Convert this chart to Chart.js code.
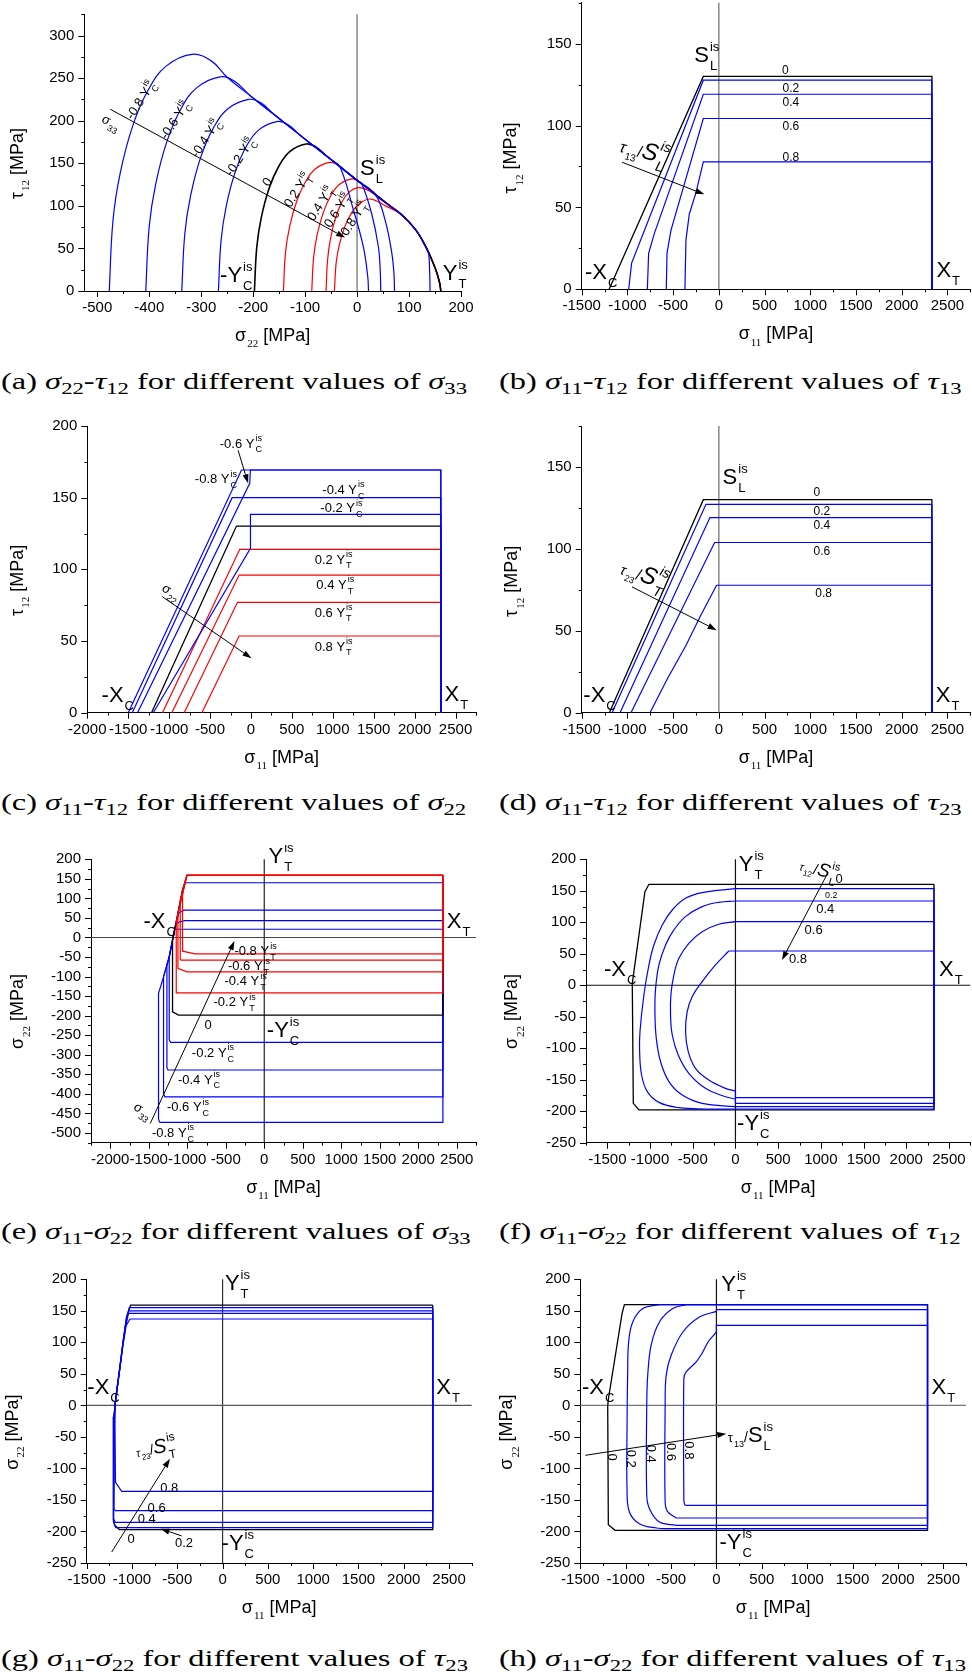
<!DOCTYPE html>
<html>
<head>
<meta charset="utf-8">
<title>Failure envelopes</title>
<script src="https://cdn.jsdelivr.net/npm/chart.js@4.4.1/dist/chart.umd.min.js"></script>
<style>
  html, body { margin:0; padding:0; background:#ffffff; }
  body { position:relative; width:972px; height:1676px; overflow:hidden; }
  canvas { position:absolute; }
  .cap { position:absolute; white-space:nowrap; font-family:'Liberation Serif','DejaVu Serif',serif; font-size:24px; line-height:1; color:#000; z-index:2; transform-origin:0 0; }
  .cap sub { font-size:70%; vertical-align:baseline; position:relative; top:0.3em; }
</style>
</head>
<body>
<div class="cap" data-l="1" data-b="389">(a) <i>σ</i><sub>22</sub>-<i>τ</i><sub>12</sub> for different values of <i>σ</i><sub>33</sub></div>
<div class="cap" data-l="499" data-b="389">(b) <i>σ</i><sub>11</sub>-<i>τ</i><sub>12</sub> for different values of <i>τ</i><sub>13</sub></div>
<div class="cap" data-l="1" data-b="810">(c) <i>σ</i><sub>11</sub>-<i>τ</i><sub>12</sub> for different values of <i>σ</i><sub>22</sub></div>
<div class="cap" data-l="499" data-b="810">(d) <i>σ</i><sub>11</sub>-<i>τ</i><sub>12</sub> for different values of <i>τ</i><sub>23</sub></div>
<div class="cap" data-l="1" data-b="1239">(e) <i>σ</i><sub>11</sub>-<i>σ</i><sub>22</sub> for different values of <i>σ</i><sub>33</sub></div>
<div class="cap" data-l="499" data-b="1239">(f) <i>σ</i><sub>11</sub>-<i>σ</i><sub>22</sub> for different values of <i>τ</i><sub>12</sub></div>
<div class="cap" data-l="1" data-b="1666">(g) <i>σ</i><sub>11</sub>-<i>σ</i><sub>22</sub> for different values of <i>τ</i><sub>23</sub></div>
<div class="cap" data-l="499" data-b="1666">(h) <i>σ</i><sub>11</sub>-<i>σ</i><sub>22</sub> for different values of <i>τ</i><sub>13</sub></div>
<script>
// ======================= DATA =======================
// ---- (a) sigma22 - tau12, curves for sigma33 ----
const A_XTICKS = [-500,-400,-300,-200,-100,0,100,200];
const A_YTICKS = [0,50,100,150,200,250,300];
const A_YC_M08 = [[-477,0],[-469.7,83.4],[-455.7,139],[-431.5,194.6],[-401.8,236.3],[-367.6,264.1],[-318,278],[-280,270],[-250,251],[-200,226.7],[-150,202.5],[-100,178.4],[-50,154.3],[-33,146],[-7,95],[12,52],[20.5,17],[22,0]];
const A_YC_M06 = [[-406.7,0],[-400.1,75.5],[-387.5,125.8],[-365.8,176],[-339.1,213.8],[-308.3,238.9],[-263.7,251.5],[-235,246],[-205,229],[-150,202.5],[-100,178.4],[-50,154.3],[0,130],[9,126],[28,91],[41,52],[44.5,25],[45.6,0]];
const A_YC_M04 = [[-337.4,0],[-331.5,67.5],[-320.2,112.5],[-300.7,157.5],[-276.7,191.3],[-249.1,213.8],[-209,225],[-185,221],[-160,207.5],[-100,178.4],[-50,154.3],[0,130],[35,113.5],[54,83],[67,44],[71,20],[72,0]];
const A_YC_M02 = [[-266.9,0],[-261.7,59.7],[-251.9,99.5],[-234.8,139.3],[-213.8,169.2],[-189.6,189],[-154.6,199],[-132,195],[-110,183],[-50,154.3],[0,130],[30,116],[60,101.5],[83,91],[100,81],[115,70],[127,58],[137,46],[139.5,25],[140.5,0]];
const A_ZERO   = [[-197.6,0],[-193,51.8],[-184.3,86.4],[-169.1,120.9],[-150.5,146.8],[-129.1,164.1],[-98,172.7],[-80,169.5],[-60,159.3],[-30,144.6],[0,130],[30,116],[60,101.5],[83,91],[100,81],[115,70],[127,58],[137,46],[145,35],[152,24],[157,14],[160,6],[161,0]];
const A_YT_P02 = [[-141.8,0],[-137.7,45.3],[-129.8,75.5],[-116.1,105.7],[-99.3,128.4],[-80,143.5],[-52,151],[-35,147.5],[-18,138.8],[0,130],[30,116],[60,101.5],[83,91],[100,81],[115,70],[127,58],[137,46],[145,35],[152,24],[157,14],[160,6],[161,0]];
const A_YT_P04 = [[-87.2,0],[-83.6,39.5],[-76.9,65.8],[-65.1,92.1],[-50.7,111.9],[-34.1,125],[-10,131.6],[5,128],[20,121],[30,116],[60,101.5],[83,91],[100,81],[115,70],[127,58],[137,46],[145,35],[152,24],[157,14],[160,6],[161,0]];
const A_YT_P06 = [[-59.7,0],[-56.8,36.4],[-51.4,60.7],[-41.9,85],[-30.3,103.2],[-16.9,115.3],[2.5,121.4],[25,117],[44,108],[60,101.5],[83,91],[100,81],[115,70],[127,58],[137,46],[145,35],[152,24],[157,14],[160,6],[161,0]];
const A_YT_P08 = [[-43.6,0],[-40.4,32.4],[-34.3,54],[-23.7,75.6],[-10.7,91.8],[4.3,102.6],[26,108],[55,100],[83,91],[100,81],[115,70],[127,58],[137,46],[145,35],[152,24],[157,14],[160,6],[161,0]];

// ---- shared tick lists ----
const X_TICKS_1500 = [-1500,-1000,-500,0,500,1000,1500,2000,2500];
const X_TICKS_2000 = [-2000,-1500,-1000,-500,0,500,1000,1500,2000,2500];
const Y_TICKS_150  = [0,50,100,150];
const Y_TICKS_200  = [0,50,100,150,200];
const Y_TICKS_500  = [-500,-450,-400,-350,-300,-250,-200,-150,-100,-50,0,50,100,150,200];
const Y_TICKS_250  = [-250,-200,-150,-100,-50,0,50,100,150,200];

// ---- (b) sigma11 - tau12, curves for tau13/SL ----
const B_T13_0  = [[-1200,0],[-170,130],[2330,130],[2330,0]];
const B_T13_02 = [[-986,0],[-954,16],[-170,127.7],[2330,127.7],[2330,0]];
const B_T13_04 = [[-782,0],[-768,22],[-706,34],[-170,119.1],[2330,119.1],[2330,0]];
const B_T13_06 = [[-575,0],[-567,22],[-524,36],[-170,104.3],[2330,104.3],[2330,0]];
const B_T13_08 = [[-371,0],[-360,30],[-323,46],[-250,59],[-170,77.8],[2330,77.8],[2330,0]];

// ---- (c) sigma11 - tau12, curves for sigma22 ----
const C_YC_M08 = [[-1500,0],[-116,169.3],[2320,169.3],[2320,0]];
const C_YC_M06 = [[-1386,0],[-15,160],[-7,169.3],[2320,169.3],[2320,0]];
const C_YC_M04 = [[-1451,0],[-230,150],[2320,150],[2320,0]];
const C_YC_M02 = [[-1194,0],[-6,114.7],[-6,138.4],[2320,138.4],[2320,0]];
const C_ZERO   = [[-1215,0],[-177,130.2],[2320,130.2],[2320,0]];
const C_YT_P02 = [[-1081,0],[-137,114],[2320,114],[2320,0]];
const C_YT_P04 = [[-967,0],[-145,96],[2320,96],[2320,0]];
const C_YT_P06 = [[-816,0],[-165,77],[2320,77],[2320,0]];
const C_YT_P08 = [[-600,0],[-145,53.5],[2320,53.5],[2320,0]];

// ---- (d) sigma11 - tau12, curves for tau23/ST ----
const D_T23_0  = [[-1198,0],[-170,130],[2330,130],[2330,0]];
const D_T23_02 = [[-1168,0],[-141,127.2],[2330,127.2],[2330,0]];
const D_T23_04 = [[-1081,0],[-97.5,119.1],[2330,119.1],[2330,0]];
const D_T23_06 = [[-961,0],[-46.4,103.9],[2330,103.9],[2330,0]];
const D_T23_08 = [[-753,0],[-560,21],[-360,41],[-196,59.6],[-24.6,77.8],[2330,77.8],[2330,0]];

// ---- (e) sigma11 - sigma22, curves for sigma33 ----
const E_YT_M08 = [[2320,159],[-1004,159],[-1030,140],[-1061,110],[-1061,-35],[-897,-42],[2320,-42],[2320,159]];
const E_YT_M06 = [[2320,159],[-1004,159],[-1040,130],[-1091,95],[-1091,-55],[-1080,-58],[2320,-58],[2320,159]];
const E_YT_M04 = [[2320,159],[-1004,159],[-1045,125],[-1090,85],[-1121,55],[-1121,-79],[-1004,-87.8],[2320,-87.8],[2320,159]];
const E_YT_M02 = [[2320,159],[-1004,159],[-1050,128],[-1100,82],[-1143,40],[-1143,-141.6],[2320,-141.6],[2320,159]];
const E_ZERO   = [[2320,159],[-1004,159],[-1061,121.4],[-1113,70.2],[-1156,27.4],[-1191,-6.6],[-1191,-190],[-1113,-198.7],[2320,-198.7],[2320,159]];
const E_YC_M02 = [[2320,140],[-1026,140],[-1040,132],[-1061,121.4],[-1113,70.2],[-1156,27.4],[-1191,-6.6],[-1234,-49.4],[-1234,-262],[-1215,-268.6],[2320,-268.6],[2320,140]];
const E_YC_M04 = [[2320,70],[-1043,70],[-1110,63],[-1156,27.4],[-1191,-6.6],[-1234,-49.4],[-1264,-70],[-1264,-333],[-1250,-339],[2320,-339],[2320,70]];
const E_YC_M06 = [[2320,43],[-1030,43],[-1100,40],[-1140,35],[-1156,27.4],[-1191,-6.6],[-1234,-49.4],[-1308,-100.6],[-1308,-400],[-1290,-408],[2320,-408],[2320,43]];
const E_YC_M08 = [[2320,21],[-1162,21],[-1191,-6.6],[-1234,-49.4],[-1308,-100.6],[-1373,-143],[-1373,-465],[-1355,-473],[2320,-473],[2320,21]];

// ---- (f) sigma11 - sigma22, curves for tau12/SL ----
const F_T12_0      = [[2325,160.3],[-1013,160.3],[-1060,148.6],[-1208,3],[-1196,-187.5],[-1130,-198],[2325,-198],[2325,160.3]];
const F_T12_02_BOX = [[0,153.4],[2325,153.4],[2325,-196.5],[0,-196.5]];
const F_T12_02_ARC = [[0,153.4],[-390,147],[-585,138],[-740,119.5],[-857,95.7],[-955,64],[-1013,32.2],[-1072,-15.5],[-1118,-73.7],[-1122,-105.5],[-1099,-142.5],[-1032,-169],[-896,-186],[-662,-194.4],[-351,-196.5],[0,-196.5]];
const F_T12_04_BOX = [[0,133.8],[2325,133.8],[2325,-192.8],[0,-192.8]];
const F_T12_04_ARC = [[0,133.8],[-195,131.7],[-390,124.8],[-585,109],[-721,87.8],[-818,64],[-896,32.2],[-935,-4.9],[-943,-42],[-927,-84.3],[-877,-121.3],[-779,-153],[-623,-174.3],[-390,-187.5],[0,-192.8]];
const F_T12_06_BOX = [[0,101],[2325,101],[2325,-187.5],[0,-187.5],[0,-180.6]];
const F_T12_06_ARC = [[0,101],[-195,96.8],[-390,85.1],[-546,66.6],[-662,42.8],[-721,16.3],[-756,-15.5],[-760,-47.2],[-740,-79],[-670,-110.7],[-546,-139.9],[-351,-163.7],[-117,-177],[0,-180.6]];
const F_T12_08_BOX = [[-78,54.4],[2325,54.4],[2325,-178.5],[0,-178.5],[0,-167.9]];
const F_T12_08_ARC = [[-78,54.4],[-234,32.2],[-390,5.7],[-507,-18.1],[-565,-42],[-584,-73.7],[-553,-105.5],[-468,-131.9],[-312,-150.5],[-117,-163.7],[0,-167.9]];

// ---- (g) sigma11 - sigma22, curves for tau23/ST ----
const G_T23_0  = [[2320,159],[-1015,159],[-1059,140.7],[-1096,103.7],[-1133,61.4],[-1177,13.8],[-1199,-18],[-1206,-181.8],[-1190,-190],[-1140,-197],[2320,-197],[2320,159]];
const G_T23_02 = [[2320,155],[-1030,155],[-1062,138],[-1096,103.7],[-1133,61.4],[-1177,13.8],[-1199,-18],[-1204,-185],[-1180,-194],[2320,-194],[2320,155]];
const G_T23_04 = [[2320,150],[-1035,150],[-1068,130],[-1098,100],[-1135,58],[-1180,10],[-1200,-20],[-1203,-180],[-1185,-185.6],[2320,-185.6],[2320,150]];
const G_T23_06 = [[2320,146],[-1040,146],[-1075,120],[-1102,95],[-1138,55],[-1183,6],[-1198,-25],[-1200,-164],[-1185,-167],[2320,-167],[2320,146]];
const G_T23_08 = [[2320,137],[-1022,137],[-1066,126],[-1105,90],[-1140,52],[-1185,3],[-1188,-30],[-1182,-122],[-1114,-136.5],[2320,-136.5],[2320,137]];

// ---- (h) sigma11 - sigma22, curves for tau13/SL ----
const H_T13_0      = [[2326,159.8],[-1014,159.8],[-1040,145.5],[-1187,13.3],[-1198,0],[-1191,-189.2],[-1117,-198.2],[2326,-198.2],[2326,159.8]];
const H_T13_02_BOX = [[-628,159.8],[2326,159.8],[2326,-195.6],[-500,-195.6]];
const H_T13_02_ARC = [[-628,159.8],[-812,153.5],[-922,132.3],[-967,100.6],[-978,53],[-985,-37],[-985,-132],[-959,-169],[-849,-187.6],[-660,-194.5],[-500,-195.6]];
const H_T13_04_BOX = [[-334,159.8],[2326,159.8],[2326,-190.3],[-444,-190.3]];
const H_T13_04_ARC = [[-334,159.8],[-481,153.5],[-628,132.3],[-720,95.3],[-757,47.7],[-768,0],[-768,-142.7],[-738,-163.8],[-628,-185],[-444,-190.3]];
const H_T13_06_BOX = [[0,149.2],[0,151.9],[2326,151.9],[2326,-178.6],[-444,-178.6]];
const H_T13_06_ARC = [[0,149.2],[-187,140.2],[-370,116.4],[-499,79.4],[-554,47.7],[-565,0],[-565,-153.2],[-536,-169],[-444,-178.6]];
const H_T13_08_BOX = [[0,116.4],[0,127],[2326,127],[2326,-158.5],[-340,-158.5]];
const H_T13_08_ARC = [[0,116.4],[-92,100.6],[-150,84.7],[-223,68.9],[-334,53],[-359,42.4],[-359,-150],[-350,-157.5],[-340,-158.5]];

// ======================= STYLE / LAYOUT =======================
const SANS = "'Liberation Sans', Arial, Helvetica, sans-serif";
const SERIF = "'Liberation Serif', 'Times New Roman', serif";
const BLUE = '#0000ff', RED = '#ff0000', BLACK = '#000000';

const T  = (t, s, o) => Object.assign({t: t, s: s}, o || {});
const SS = (sup, sub, s, o) => Object.assign({sup: sup, sub: sub, s: s}, o || {});
const BIG = (m, sup, sub) => [T(m, 22), SS(sup, sub, 13)];
const CL  = (m, sub) => [T(m, 13), SS('is', sub, 9)];
const NUM = (x, y, t, s, rot) => ({x: x, y: y, segs: [T(t, s || 13)], align: 'center', vc: true, rot: rot || 0});
const RL  = (x, y, segs, rot) => ({x: x, y: y, segs: segs, align: 'center', vc: true, rot: rot || 0});
const LL  = (x, y, segs, rot) => ({x: x, y: y, segs: segs, align: 'left', rot: rot || 0});

const PANELS = [
  { id:'a', box:[0,0,486,360], area:[84.3,461,14.3,291], xr:[-525,200], yr:[0,325],
    xt:A_XTICKS, yt:A_YTICKS, xminor:50, yminor:25, zero:{v:'#6a6a6a'},
    xtitle:['σ','22'], ytitle:['τ','12'], ytOff:66, ytShift:11,
    series:[[A_YC_M08,BLUE,0.4],[A_YC_M06,BLUE,0.4],[A_YC_M04,BLUE,0.4],[A_YC_M02,BLUE,0.4],[A_ZERO,BLACK,0.4,1.6],
            [A_YT_P02,RED,0.4],[A_YT_P04,RED,0.4],[A_YT_P06,RED,0.4],[A_YT_P08,RED,0.4]],
    labels:[ LL(5.8,136.3,BIG('S','is','L')), LL(-263.7,10.9,BIG('-Y','is','C')), LL(164.9,12.9,BIG('Y','is','T')),
      RL(-417.6,224.4,CL('-0.8 Y','C'),-57), RL(-352,201,CL('-0.6 Y','C'),-57), RL(-292.5,179.4,CL('-0.4 Y','C'),-57),
      RL(-226.5,157.8,CL('-0.2 Y','C'),-57), NUM(-173.8,128.4,'0',13,-57), RL(-116,118.7,CL('0.2 Y','T'),-57),
      RL(-71.2,103,CL('0.4 Y','T'),-57), RL(-39,95,CL('0.6 Y','T'),-57), RL(-7,85.4,CL('0.8 Y','T'),-57),
      RL(-473,198.6,[T('σ',13),SS(null,'33',9)],29) ],
    arrows:[[-475,213.5,-23,62.7]] },
  { id:'b', box:[486,0,486,360], area:[95.7,484.3,2.7,289.3], xr:[-1500,2750], yr:[0,175],
    xt:X_TICKS_1500, yt:Y_TICKS_150, xminor:250, yminor:25, zero:{v:'#6a6a6a'},
    xtitle:['σ','11'], ytitle:['τ','12'], ytOff:70, ytShift:12,
    series:[[B_T13_02,BLUE],[B_T13_04,BLUE],[B_T13_06,BLUE],[B_T13_08,BLUE],[B_T13_0,BLACK,0,1.3]],
    labels:[ LL(-268.7,139,BIG('S','is','L')), LL(-1463.6,6.1,BIG('-X',null,'C')), LL(2379.8,7.7,BIG('X',null,'T')),
      NUM(726,134.4,'0',12), NUM(788,123.4,'0.2',12), NUM(788,114.4,'0.4',12), NUM(788,100,'0.6',12), NUM(788,81.2,'0.8',12),
      LL(-1096,84.1,[T('τ',16,{it:1}),SS(null,'13',10),T('/',16),T('S',24,{it:1}),SS('is','L',14,{it:1})],15) ],
    arrows:[[-1059,77.6,-159,58]] },
  { id:'c', box:[0,415,486,370], area:[87.3,476,11,297.7], xr:[-2000,2750], yr:[0,200],
    xt:X_TICKS_2000, yt:Y_TICKS_200, xminor:250, yminor:25, zero:{},
    xtitle:['σ','11'], ytitle:['τ','12'], ytOff:69, ytShift:11,
    series:[[C_YC_M08,BLUE],[C_YC_M06,BLUE],[C_YC_M04,BLUE],[C_YC_M02,BLUE],[C_ZERO,BLACK,0,1.3],
            [C_YT_P02,RED],[C_YT_P04,RED],[C_YT_P06,RED],[C_YT_P08,RED]],
    labels:[ LL(-1825,7.7,BIG('-X',null,'C')), LL(2365,8,BIG('X',null,'T')),
      LL(-381,185,CL('-0.6 Y','C')), LL(-686,160,CL('-0.8 Y','C')), LL(872,152.6,CL('-0.4 Y','C')), LL(848,140,CL('-0.2 Y','C')),
      LL(779,104,CL('0.2 Y','T')), LL(799,86.3,CL('0.4 Y','T')), LL(779,67,CL('0.6 Y','T')), LL(779,43.3,CL('0.8 Y','T')),
      RL(-971,84.4,[T('σ',13),SS(null,'22',9)],35) ],
    arrows:[[-1085,81,6,38],[-157,183,-35,160]] },
  { id:'d', box:[486,415,486,370], area:[95.7,484.3,11,297.7], xr:[-1500,2750], yr:[0,175],
    xt:X_TICKS_1500, yt:Y_TICKS_150, xminor:250, yminor:25, zero:{v:'#6a6a6a'},
    xtitle:['σ','11'], ytitle:['τ','12'], ytOff:69, ytShift:12,
    series:[[D_T23_02,BLUE],[D_T23_04,BLUE],[D_T23_06,BLUE],[D_T23_08,BLUE],[D_T23_0,BLACK,0,1.3]],
    labels:[ LL(41,139.8,BIG('S','is','L')), LL(-1482,6.3,BIG('-X',null,'C')), LL(2372,6.7,BIG('X',null,'T')),
      NUM(1072,134.8,'0',12), NUM(1127,123.6,'0.2',12), NUM(1127,114.8,'0.4',12), NUM(1127,99.2,'0.6',12), NUM(1145,73.4,'0.8',12),
      LL(-1088,85,[T('τ',14,{it:1}),SS(null,'23',9),T('/',16),T('S',24,{it:1}),SS('is','T',14,{it:1})],20) ],
    arrows:[[-950,76.8,-24.6,50.4]] },
  { id:'e', box:[0,845,486,370], area:[91,476,14.3,297.7], xr:[-2250,2750], yr:[-525,200],
    xt:X_TICKS_2000, yt:Y_TICKS_500, xminor:250, yminor:25, zero:{v:'#222222', h:'#444444'},
    xtitle:['σ','11'], ytitle:['σ','22'], ytOff:72.5, ytShift:10.5,
    series:[[E_YT_M08,RED],[E_YT_M06,RED],[E_YT_M04,RED],[E_YT_M02,RED],[E_ZERO,BLACK,0,1.3],
            [E_YC_M02,BLUE],[E_YC_M04,BLUE],[E_YC_M06,BLUE],[E_YC_M08,BLUE]],
    labels:[ LL(55,189.8,BIG('Y','is','T')), LL(-1568,23.3,BIG('-X',null,'C')), LL(2370,23.3,BIG('X',null,'T')), LL(34,-254,BIG('-Y','is','C')),
      LL(-387,-45,CL('-0.8 Y','T')), LL(-472,-83.5,CL('-0.6 Y','T')), LL(-516,-122,CL('-0.4 Y','T')), LL(-659,-175.7,CL('-0.2 Y','T')),
      LL(-776,-235,[T('0',13)]), LL(-940,-305.5,CL('-0.2 Y','C')), LL(-1121,-373.6,CL('-0.4 Y','C')),
      LL(-1264,-444,CL('-0.6 Y','C')), LL(-1459,-510,CL('-0.8 Y','C')),
      RL(-1572,-442,[T('σ',13),SS(null,'33',9)],35) ],
    arrows:[[-1481,-476,-387,-9.2]] },
  { id:'f', box:[486,845,486,370], area:[100,484.3,14.3,297.7], xr:[-1750,2750], yr:[-250,200],
    xt:X_TICKS_1500, yt:Y_TICKS_250, xminor:250, yminor:25, zero:{v:'#111111', h:'#111111'},
    xtitle:['σ','11'], ytitle:['σ','22'], ytOff:73.5, ytShift:10.5,
    series:[[F_T12_02_BOX,BLUE],[F_T12_02_ARC,BLUE,0.4],[F_T12_04_BOX,BLUE],[F_T12_04_ARC,BLUE,0.4],
            [F_T12_06_BOX,BLUE],[F_T12_06_ARC,BLUE,0.4],[F_T12_08_BOX,BLUE],[F_T12_08_ARC,BLUE,0.4],[F_T12_0,BLACK,0,1.3]],
    labels:[ LL(38.8,181.5,BIG('Y','is','T')), LL(-1539,15.2,BIG('-X',null,'C')), LL(2384,15.2,BIG('X',null,'T')), LL(19.3,-229.9,BIG('-Y','is','C')),
      LL(740,183,[T('τ',11,{it:1}),SS(null,'12',8),T('/',15),T('S',19,{it:1}),SS('is','L',11)],15),
      NUM(1215,170,'0',13), NUM(1122,144.4,'0.2',9), NUM(1052,122,'0.4',13), NUM(915,89.4,'0.6',13), NUM(732,42.8,'0.8',13) ],
    arrows:[[1059,172.5,545,40]] },
  { id:'g', box:[0,1262,486,370], area:[86.7,471.7,17.3,301], xr:[-1500,2750], yr:[-250,200],
    xt:X_TICKS_1500, yt:Y_TICKS_250, xminor:250, yminor:25, zero:{v:'#333333', h:'#555555'},
    xtitle:['σ','11'], ytitle:['σ','22'], ytOff:73.4, ytShift:11,
    series:[[G_T23_02,BLUE],[G_T23_04,BLUE],[G_T23_06,BLUE],[G_T23_08,BLUE],[G_T23_0,BLACK,0,1.3]],
    labels:[ LL(26,182.5,BIG('Y','is','T')), LL(-1493,18.6,BIG('-X',null,'C')), LL(2360,18.6,BIG('X',null,'T')), LL(-11,-230,BIG('-Y','is','C')),
      NUM(-588,-129.5,'0.8',13), NUM(-728,-161,'0.6',13), NUM(-838,-179.7,'0.4',13), NUM(-1011,-211.4,'0',13), NUM(-426,-216.7,'0.2',13),
      LL(-948.5,-81.9,[T('τ',11,{it:1}),SS(null,'23',8),T('/',14),T('S',20,{it:1}),SS('is','T',12)],-10) ],
    arrows:[[-1224,-232.6,-581,-84.5],[-452,-207,-684,-195.6]] },
  { id:'h', box:[486,1262,486,370], area:[94.3,480,17.3,301], xr:[-1500,2750], yr:[-250,200],
    xt:X_TICKS_1500, yt:Y_TICKS_250, xminor:250, yminor:25, zero:{v:'#111111', h:'#777777'},
    xtitle:['σ','11'], ytitle:['σ','22'], ytOff:72.8, ytShift:11,
    series:[[H_T13_02_BOX,BLUE],[H_T13_02_ARC,BLUE,0.4],[H_T13_04_BOX,BLUE],[H_T13_04_ARC,BLUE,0.35],
            [H_T13_06_BOX,BLUE],[H_T13_06_ARC,BLUE,0.35],[H_T13_08_BOX,BLUE],[H_T13_08_ARC,BLUE,0.3],[H_T13_0,BLACK,0,1.3]],
    labels:[ LL(53,181,BIG('Y','is','T')), LL(-1482,18.6,BIG('-X',null,'C')), LL(2370,18.6,BIG('X',null,'T')), LL(34,-228,BIG('-Y','is','C')),
      LL(126,-58,[T('τ',13),SS(null,'13',9),T('/',14),T('S',22),SS('is','L',13)]),
      NUM(-1143,-81.9,'0',13,90), NUM(-933,-84.5,'0.2',13,90), NUM(-713,-76.6,'0.4',13,90), NUM(-488,-74,'0.6',13,90), NUM(-297,-71.3,'0.8',13,90) ],
    arrows:[[-1445,-79.2,108,-44.8]] }
];

// ======================= DRAWING =======================
function fontOf(s) { return (s.it ? 'italic ' : '') + s.s + 'px ' + (s.f || SANS); }

function drawRich(ctx, segs, align, dy) {
  const items = []; let total = 0; let base = 13;
  for (const s of segs) {
    ctx.font = fontOf(s);
    if (s.t != null) {
      const w = ctx.measureText(s.t).width; base = s.s;
      items.push([s, w, base]); total += w;
    } else {
      const w = Math.max(s.sup ? ctx.measureText(s.sup).width : 0, s.sub ? ctx.measureText(s.sub).width : 0);
      items.push([s, w, base]); total += w + 1;
    }
  }
  let x = align === 'center' ? -total / 2 : (align === 'right' ? -total : 0);
  for (const [s, w, b] of items) {
    ctx.font = fontOf(s);
    if (s.t != null) { ctx.fillText(s.t, x, dy); x += w; }
    else {
      x += 1;
      if (s.sup) ctx.fillText(s.sup, x, dy - 0.5 * b);
      if (s.sub) ctx.fillText(s.sub, x, dy + 0.36 * b);
      x += w;
    }
  }
}

function titleSegs(p) { return [T(p[0], 18), SS(null, p[1], 11, {f: SERIF}), T(' [MPa]', 18)]; }

function makeAnnot(P) {
  return {
    id: 'annot_' + P.id,
    beforeDatasetsDraw(chart) {
      const ctx = chart.ctx, ca = chart.chartArea, xs = chart.scales.x, ys = chart.scales.y;
      ctx.save(); ctx.lineWidth = 1.2;
      if (P.zero.v) {
        const X = xs.getPixelForValue(0);
        ctx.strokeStyle = P.zero.v; ctx.beginPath(); ctx.moveTo(X, ca.top); ctx.lineTo(X, ca.bottom); ctx.stroke();
      }
      if (P.zero.h) {
        const Y = ys.getPixelForValue(0);
        ctx.strokeStyle = P.zero.h; ctx.beginPath(); ctx.moveTo(ca.left, Y); ctx.lineTo(ca.right, Y); ctx.stroke();
      }
      ctx.restore();
    },
    afterDraw(chart) {
      const ctx = chart.ctx, ca = chart.chartArea, xs = chart.scales.x, ys = chart.scales.y;
      ctx.save();
      // tick marks (major + minor, outward)
      ctx.strokeStyle = '#000'; ctx.lineWidth = 1; ctx.beginPath();
      for (let k = Math.ceil(xs.min / P.xminor - 1e-9); k * P.xminor <= xs.max + 1e-9; k++) {
        const v = k * P.xminor, maj = P.xt.indexOf(v) >= 0, len = maj ? 6 : 3;
        const X = Math.round(xs.getPixelForValue(v)) + 0.5;
        ctx.moveTo(X, ca.bottom); ctx.lineTo(X, ca.bottom + len);
      }
      for (let k = Math.ceil(ys.min / P.yminor - 1e-9); k * P.yminor <= ys.max + 1e-9; k++) {
        const v = k * P.yminor, maj = P.yt.indexOf(v) >= 0, len = maj ? 6 : 3;
        const Y = Math.round(ys.getPixelForValue(v)) + 0.5;
        ctx.moveTo(ca.left - len, Y); ctx.lineTo(ca.left, Y);
      }
      ctx.stroke();
      // axis titles
      ctx.fillStyle = '#000'; ctx.textBaseline = 'alphabetic'; ctx.textAlign = 'left';
      ctx.save(); ctx.translate((ca.left + ca.right) / 2, ca.bottom + 50);
      drawRich(ctx, titleSegs(P.xtitle), 'center', 0); ctx.restore();
      ctx.save(); ctx.translate(ca.left - P.ytOff, (ca.top + ca.bottom) / 2 + P.ytShift); ctx.rotate(-Math.PI / 2);
      drawRich(ctx, titleSegs(P.ytitle), 'center', 4.7); ctx.restore();
      // arrows
      ctx.strokeStyle = '#000'; ctx.fillStyle = '#000'; ctx.lineWidth = 1;
      for (const a of P.arrows) {
        const x1 = xs.getPixelForValue(a[0]), y1 = ys.getPixelForValue(a[1]);
        const x2 = xs.getPixelForValue(a[2]), y2 = ys.getPixelForValue(a[3]);
        const ang = Math.atan2(y2 - y1, x2 - x1), hl = 9, hw = 3;
        const bx = x2 - hl * Math.cos(ang), by = y2 - hl * Math.sin(ang);
        ctx.beginPath(); ctx.moveTo(x1, y1); ctx.lineTo(bx, by); ctx.stroke();
        ctx.beginPath(); ctx.moveTo(x2, y2);
        ctx.lineTo(bx - hw * Math.sin(ang), by + hw * Math.cos(ang));
        ctx.lineTo(bx + hw * Math.sin(ang), by - hw * Math.cos(ang));
        ctx.closePath(); ctx.fill();
      }
      // text labels
      for (const L of P.labels) {
        const X = xs.getPixelForValue(L.x), Y = ys.getPixelForValue(L.y);
        ctx.save(); ctx.translate(X, Y);
        if (L.rot) ctx.rotate(L.rot * Math.PI / 180);
        ctx.fillStyle = '#000';
        drawRich(ctx, L.segs, L.align || 'left', L.vc ? 0.36 * L.segs[0].s : 0);
        ctx.restore();
      }
      ctx.restore();
    }
  };
}

function makeScale(P, axis) {
  const isX = axis === 'x';
  const [l, r, t, b] = P.area, H = P.box[3];
  const ticksList = isX ? P.xt : P.yt;
  return {
    type: 'linear', position: isX ? 'bottom' : 'left',
    min: isX ? P.xr[0] : P.yr[0], max: isX ? P.xr[1] : P.yr[1],
    afterBuildTicks: s => { s.ticks = ticksList.map(v => ({value: v})); },
    afterFit: s => {
      if (isX) s.height = H - b; else s.width = l;
      s.paddingLeft = 0; s.paddingRight = 0; s.paddingTop = 0; s.paddingBottom = 0;
    },
    grid: {display: false, drawTicks: false},
    border: {display: true, color: '#000', width: 1},
    ticks: {autoSkip: false, maxRotation: 0, minRotation: 0, padding: isX ? 8 : 10, color: '#000',
            font: {family: SANS, size: 15}, callback: v => String(v)}
  };
}

function makePanel(P) {
  const cv = document.createElement('canvas');
  const [left, top, W, H] = P.box;
  cv.width = W; cv.height = H;
  cv.style.left = left + 'px'; cv.style.top = top + 'px';
  cv.style.width = W + 'px'; cv.style.height = H + 'px';
  document.body.appendChild(cv);
  const [l, r, t, b] = P.area;
  const datasets = P.series.map(s => ({
    data: s[0].map(p => ({x: p[0], y: p[1]})),
    borderColor: s[1], backgroundColor: s[1], borderWidth: s[3] || 1.2,
    showLine: true, pointRadius: 0, pointHoverRadius: 0, tension: s[2] || 0, fill: false, clip: false
  }));
  new Chart(cv, {
    type: 'scatter',
    data: {datasets: datasets},
    options: {
      responsive: false, animation: false, devicePixelRatio: 1, events: [],
      layout: {padding: {left: 0, top: t, right: W - r, bottom: 0}},
      plugins: {legend: {display: false}, tooltip: {enabled: false}, title: {display: false}},
      scales: {x: makeScale(P, 'x'), y: makeScale(P, 'y')}
    },
    plugins: [makeAnnot(P)]
  });
}

Chart.defaults.font.family = SANS;
PANELS.forEach(makePanel);

// captions: common font size, stretched horizontally to the width of caption (a)
(function () {
  const caps = document.querySelectorAll('.cap');
  const fs = 24;
  const w = caps[0].getBoundingClientRect().width;
  const sx = 466 / w;
  caps.forEach(c => {
    c.style.left = c.dataset.l + 'px';
    c.style.top = (parseFloat(c.dataset.b) - 0.8375 * fs) + 'px';
    c.style.transform = 'scaleX(' + sx.toFixed(4) + ')';
  });
})();
</script>
</body>
</html>
